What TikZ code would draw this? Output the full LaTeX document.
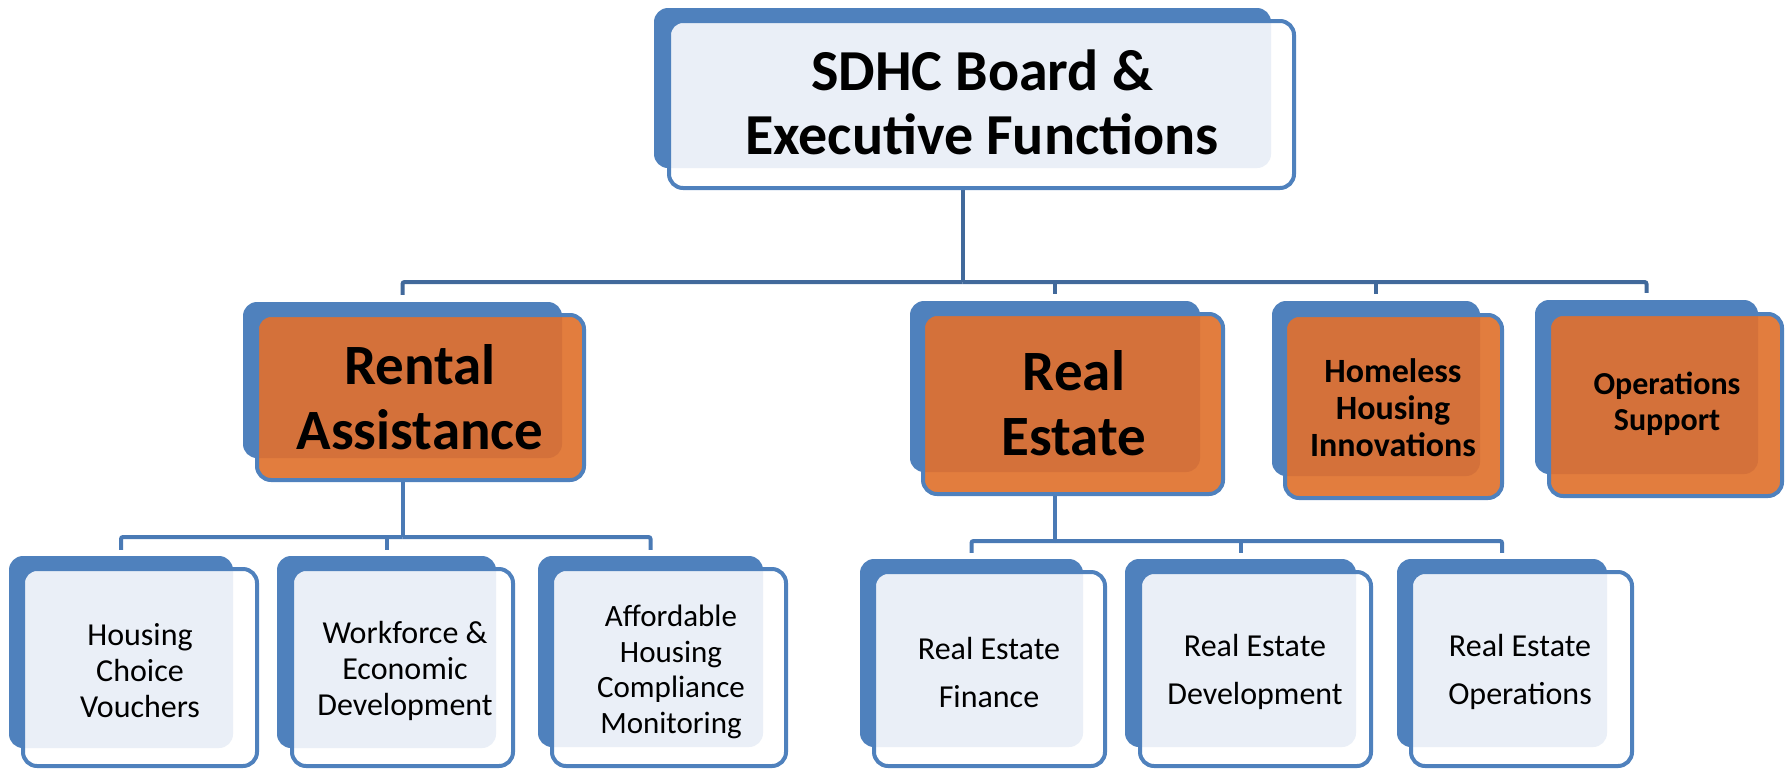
\documentclass[tikz,border=0pt]{standalone}
\usepackage{fontspec}
\setmainfont{Carlito}
\usetikzlibrary{fit,backgrounds}
\definecolor{bblue}{HTML}{4F81BD}
\definecolor{lightfill}{HTML}{EAEFF7}
\definecolor{orout}{HTML}{E27D3E}
\definecolor{orin}{HTML}{D4713A}
\definecolor{conntop}{HTML}{41699B}
\definecolor{connlow}{HTML}{4A7AB5}
\newcommand{\orgbox}[7]{%
  \fill[bblue, rounded corners=14] #2 rectangle #3;
  \fill[#6, rounded corners=14] #4 rectangle #5;
  \begin{scope}
    \clip[rounded corners=14] #2 rectangle #3;
    \fill[#7, rounded corners=14] #4 rectangle #5;
  \end{scope}
  \draw[bblue, line width=4, rounded corners=14] #4 rectangle #5;
  \node[inner sep=0, fit={#2 #3}] (b#1) {};
  \node[inner sep=0, fit={#4 #5}] (#1) {};
}
\begin{document}
\begin{tikzpicture}[x=1pt,y=-1pt,
  conn/.style={line width=4, rounded corners=2},
  bigtxt/.style={align=center, inner sep=0, font=\bfseries\fontsize{57}{65}\selectfont},
  midtxt/.style={align=center, inner sep=0, font=\bfseries\fontsize{34}{37}\selectfont},
  lowtxt/.style={align=center, inner sep=0, font=\fontsize{32}{36}\selectfont},
  retxt/.style={align=center, inner sep=0, font=\fontsize{32}{48}\selectfont}]
\useasboundingbox (0,0) rectangle (1787,769);
% top
\orgbox{top}{(654,8)}{(1271,168)}{(669,21)}{(1294,188)}{white}{lightfill}
\node[align=center, inner sep=0, font=\bfseries\fontsize{58}{64}\selectfont] (toptxt) at (982,102) {SDHC Board \&\\Executive Functions};
% second level
\orgbox{rent}{(243,302)}{(562,458)}{(257,315)}{(584,480)}{orout}{orin}
\node[bigtxt] (renttxt) at (420,397) {Rental\\Assistance};
\orgbox{re}{(910,301)}{(1200,472)}{(923,314)}{(1223,494)}{orout}{orin}
\node[bigtxt] (retxt) at (1074,403) {Real\\Estate};
\orgbox{hh}{(1272,301)}{(1480,476)}{(1285,315)}{(1502,498)}{orout}{orin}
\node[midtxt] (hhtxt) at (1393,408) {Homeless\\Housing\\Innovations};
\orgbox{ops}{(1535,300)}{(1758,474)}{(1549,314)}{(1782,496)}{orout}{orin}
\node[midtxt, font=\bfseries\fontsize{32}{36}\selectfont] (opstxt) at (1667,404) {Operations\\Support};
% third level
\orgbox{hcv}{(9,556)}{(233,748)}{(23,569)}{(257,766)}{white}{lightfill}
\node[lowtxt] (hcvtxt) at (140,671) {Housing\\Choice\\Vouchers};
\orgbox{wed}{(277,556)}{(496,748)}{(292,569)}{(513,766)}{white}{lightfill}
\node[lowtxt] (wedtxt) at (405,671) {Workforce \&\\Economic\\Development};
\orgbox{ahc}{(538,556)}{(763,747)}{(552,569)}{(786,766)}{white}{lightfill}
\node[lowtxt, font=\fontsize{31}{35.5}\selectfont] (ahctxt) at (671,672) {Affordable\\Housing\\Compliance\\Monitoring};
\orgbox{ref}{(860,559)}{(1083,747)}{(874,572)}{(1105,766)}{white}{lightfill}
\node[retxt] (reftxt) at (989,672) {Real Estate\\Finance};
\orgbox{red}{(1125,559)}{(1356,747)}{(1140,572)}{(1371,766)}{white}{lightfill}
\node[retxt] (redtxt) at (1255,672) {Real Estate\\Development};
\orgbox{reo}{(1397,559)}{(1607,747)}{(1411,572)}{(1632,766)}{white}{lightfill}
\node[retxt] (reotxt) at (1520,672) {Real Estate\\Operations};
% connectors
\begin{scope}[on background layer]
  \coordinate (j0) at (btop.south |- 0,282);
  \draw[conn, conntop] (btop.south) -- (j0);
  \draw[conn, conntop] (j0) -| ([yshift=7]brent.north);
  \draw[conn, conntop] (j0) -| ([yshift=7]bops.north);
  \draw[conn, conntop] (bre.north |- j0) -- ([yshift=7]bre.north);
  \draw[conn, conntop] (bhh.north |- j0) -- ([yshift=7]bhh.north);
  \coordinate (j1) at (brent.south |- 0,537);
  \draw[conn, connlow] (brent.south) -- (j1);
  \draw[conn, connlow] (j1) -| ([yshift=6]bhcv.north);
  \draw[conn, connlow] (j1) -| ([yshift=6]bahc.north);
  \draw[conn, connlow] (bwed.north |- j1) -- ([yshift=6]bwed.north);
  \coordinate (j2) at (bre.south |- 0,541);
  \draw[conn, connlow] (bre.south) -- (j2);
  \draw[conn, connlow] (j2) -| ([yshift=6]bref.north);
  \draw[conn, connlow] (j2) -| ([yshift=6]breo.north);
  \draw[conn, connlow] (bred.north |- j2) -- ([yshift=6]bred.north);
\end{scope}
\end{tikzpicture}
\end{document}
